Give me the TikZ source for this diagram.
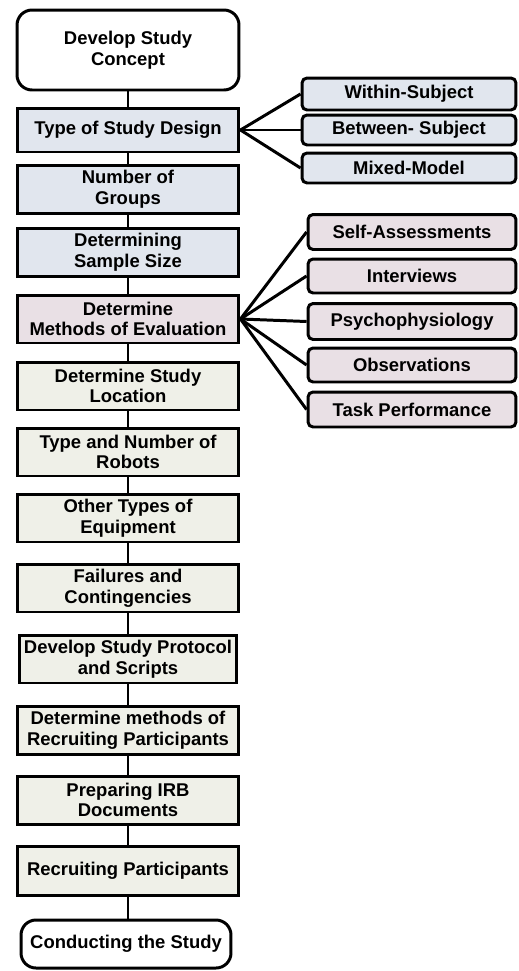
\documentclass[tikz,border=0pt]{standalone}
\usepackage{fontspec}
\setmainfont{Liberation Sans}
\usepackage{tikz}
\usetikzlibrary{shapes, arrows, positioning, calc}

\definecolor{designblue}{HTML}{E1E6EE}
\definecolor{evalpink}{HTML}{E9E0E5}
\definecolor{prepbeige}{HTML}{EFF0E8}

\tikzset{
	stage/.style={rectangle, draw, line width=1.7pt, minimum width=4.44cm, minimum height=0.96cm, align=center, font=\fontsize{10.5}{11.8}\selectfont\bfseries, inner sep=1pt},
	endpoint/.style={stage, rounded corners=0.3cm, fill=white},
	option/.style={rectangle, draw, line width=1.7pt, rounded corners=0.1cm, minimum height=0.64cm, align=center, font=\fontsize{10.5}{11.8}\selectfont\bfseries, inner sep=1pt},
	link/.style={line width=1.7pt}
}

\begin{document}
\begin{tikzpicture}[x=0.02cm, y=-0.02cm]
			\useasboundingbox (0,0) rectangle (518,971);
			
			% Main stages
			\node[endpoint, minimum height=1.6cm] (concept) at (128, 50) {Develop Study\\Concept};
			\node[stage, fill=designblue, minimum height=0.88cm] (design) at (128, 130) {Type of Study Design};
			\node[stage, fill=designblue] (groups) at (128, 189.5) {Number of\\Groups};
			\node[stage, fill=designblue] (sample) at (128, 252.5) {Determining\\Sample Size};
			\node[stage, fill=evalpink] (methods) at (128, 319) {Determine\\Methods of Evaluation};
			\node[stage, fill=prepbeige] (location) at (128, 386) {Determine Study\\Location};
			\node[stage, fill=prepbeige] (robots) at (128, 452) {Type and Number of\\Robots};
			\node[stage, fill=prepbeige] (equipment) at (128, 518) {Other Types of\\Equipment};
			\node[stage, fill=prepbeige] (failures) at (128, 588) {Failures and\\Contingencies};
			\node[stage, fill=prepbeige, minimum width=4.36cm] (protocol) at (128, 659) {Develop Study Protocol\\and Scripts};
			\node[stage, fill=prepbeige] (recruitplan) at (128, 730) {Determine methods of\\Recruiting Participants};
			\node[stage, fill=prepbeige] (irb) at (128, 800) {Preparing IRB\\Documents};
			\node[stage, fill=prepbeige, minimum height=0.98cm] (recruiting) at (128, 870.5) {Recruiting Participants};
			\node[endpoint, minimum width=4.2cm] (conducting) at (126, 944) {Conducting the Study};
			
			% Study design options
			\node[option, fill=designblue, minimum width=4.28cm] (within) at (409, 94) {Within-Subject};
			\node[option, fill=designblue, minimum width=4.28cm, minimum height=0.6cm] (between) at (409, 130) {Between- Subject};
			\node[option, fill=designblue, minimum width=4.28cm, minimum height=0.6cm] (mixed) at (409, 168) {Mixed-Model};
			
			% Evaluation options
			\node[option, fill=evalpink, minimum width=4.16cm, minimum height=0.7cm] (selfassess) at (412, 232) {Self-Assessments};
			\node[option, fill=evalpink, minimum width=4.16cm, minimum height=0.68cm] (interviews) at (412, 276) {Interviews};
			\node[option, fill=evalpink, minimum width=4.16cm, minimum height=0.72cm] (psycho) at (412, 321.5) {Psychophysiology};
			\node[option, fill=evalpink, minimum width=4.16cm, minimum height=0.68cm] (observe) at (412, 365) {Observations};
			\node[option, fill=evalpink, minimum width=4.16cm, minimum height=0.7cm] (task) at (412, 409.5) {Task Performance};
			
			% Connections
			\foreach \a/\b in {concept/design, design/groups, groups/sample, sample/methods, methods/location, location/robots, robots/equipment, equipment/failures, failures/protocol, protocol/recruitplan, recruitplan/irb, irb/recruiting}
				\draw[link] (\a.south) -- (\b.north);
			\draw[link] (recruiting.south) -- (recruiting.south |- conducting.north);
			\foreach \o in {within, between, mixed}
				\draw[link] (design.east) -- (\o.west);
			\foreach \o in {selfassess, interviews, psycho, observe, task}
				\draw[link] (methods.east) -- (\o.west);
		\end{tikzpicture}
\end{document}
